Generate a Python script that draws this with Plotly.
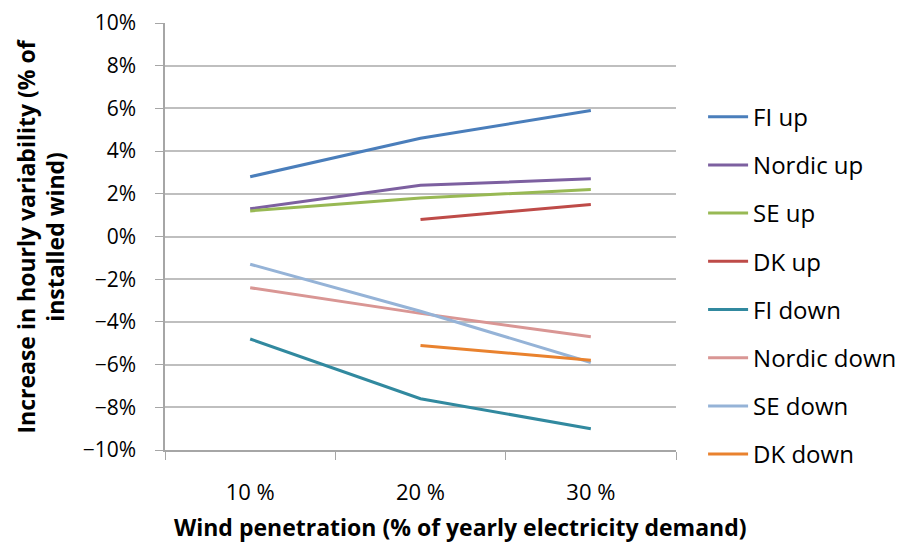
import plotly.graph_objects as go

categories = ["10 %", "20 %", "30 %"]

fi_up = [2.8, 4.6, 5.9]
nordic_up = [1.3, 2.4, 2.7]
se_up = [1.2, 1.8, 2.2]
dk_up = [None, 0.8, 1.5]
fi_down = [-4.8, -7.6, -9.0]
nordic_down = [-2.4, -3.6, -4.7]
se_down = [-1.3, -3.5, -5.9]
dk_down = [None, -5.1, -5.8]

series = [
    ("FI up", fi_up, "#4A7EBB"),
    ("Nordic up", nordic_up, "#7D60A0"),
    ("SE up", se_up, "#98B954"),
    ("DK up", dk_up, "#BE4B48"),
    ("FI down", fi_down, "#31899F"),
    ("Nordic down", nordic_down, "#D99694"),
    ("SE down", se_down, "#95B3D7"),
    ("DK down", dk_down, "#E9822E"),
]

FONT = "'Open Sans', sans-serif"

fig = go.Figure()
for i, (name, vals, col) in enumerate(series):
    fig.add_trace(go.Scatter(
        x=categories, y=vals, name=name, mode="lines",
        line=dict(color=col, width=3), legendgroup=str(i),
    ))

# page body adds an 8px margin, so the figure is 8px smaller and shifted
fig.update_layout(
    width=901, height=536,
    margin=dict(l=157, r=233, t=15, b=94, autoexpand=False),
    paper_bgcolor="white", plot_bgcolor="white",
    font=dict(family=FONT, size=22, color="#000000"),
    showlegend=True,
    legend=dict(
        x=1.053, xanchor="left", y=0.385, yanchor="middle",
        font=dict(size=24), tracegroupgap=14,
        itemwidth=40,
    ),
)

fig.update_yaxes(
    range=[-10, 10], dtick=2, ticksuffix="%",
    showgrid=True, gridcolor="#BFBFBF", gridwidth=1.5,
    zeroline=False, automargin=False,
    showline=True, linecolor="#A6A6A6", linewidth=1.5,
    ticks="outside", ticklen=8, tickcolor="#A6A6A6",
    ticklabelstandoff=15, ticklabeloverflow="allow",
    tickfont=dict(size=21),
)
fig.update_xaxes(
    type="category", tickson="boundaries",
    range=[-0.5, 2.5],
    showgrid=False, automargin=False,
    showline=True, linecolor="#A6A6A6", linewidth=1.5,
    ticks="outside", ticklen=8, tickcolor="#A6A6A6",
    ticklabelstandoff=22,
    tickfont=dict(size=22),
)

fig.add_annotation(
    text="Wind penetration (% of yearly electricity demand)",
    xref="paper", yref="paper", x=0.579, y=-0.18,
    xanchor="center", yanchor="middle", showarrow=False,
    font=dict(size=23, family=FONT, color="#000000", weight="bold"),
)
fig.add_annotation(
    text="Increase in hourly variability (% of<br>installed wind)",
    xref="paper", yref="paper", x=-0.2445, y=0.5,
    xanchor="center", yanchor="middle", showarrow=False, textangle=-90,
    font=dict(size=23, family=FONT, color="#000000", weight="bold"),
)

fig.write_html("out.html")
